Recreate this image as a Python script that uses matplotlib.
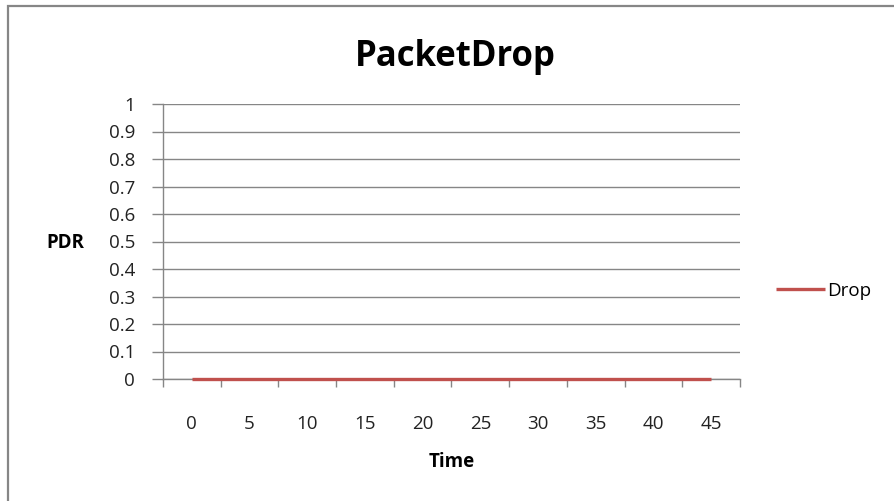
import matplotlib
matplotlib.use("Agg")
import matplotlib.pyplot as plt
from matplotlib.patches import Rectangle

# packet drop ratio sampled every 5 time units
times = [0, 5, 10, 15, 20, 25, 30, 35, 40, 45]
drop = [0, 0, 0, 0, 0, 0, 0, 0, 0, 0]
y_ticks = [0, 0.1, 0.2, 0.3, 0.4, 0.5, 0.6, 0.7, 0.8, 0.9, 1]
y_tick_labels = ["0", "0.1", "0.2", "0.3", "0.4", "0.5", "0.6", "0.7", "0.8", "0.9", "1"]

GRID = "#868686"
RED = "#C0504D"
FONT = "Open Sans"

plt.rcParams["font.family"] = [FONT, "DejaVu Sans"]

fig = plt.figure(figsize=(8.95, 5.01), dpi=100)
W, H = 895, 501

# frame around the whole chart (only left/top edges fall inside the image)
fig.patches.append(Rectangle((8 / W, -0.1), 2.0, 1.1 - 6 / H, transform=fig.transFigure,
                             fill=False, edgecolor=GRID, linewidth=1.6))

ax = fig.add_axes([163 / W, 1 - 379 / H, (740 - 163) / W, (379 - 104) / H])

pos = list(range(len(times)))
ax.plot(pos, drop, color=RED, linewidth=2.4, solid_capstyle="butt", label="Drop",
        zorder=3, clip_on=False)

ax.set_xlim(-0.5, len(times) - 0.5)
ax.set_ylim(0, 1)

# category axis: tick marks between categories, labels at the centres
ax.set_xticks([p - 0.5 for p in pos] + [len(times) - 0.5])
ax.set_xticklabels([])
ax.set_xticks(pos, minor=True)
ax.set_xticklabels([str(t) for t in times], minor=True)
ax.tick_params(axis="x", which="major", direction="out", length=6, width=1, color=GRID)
ax.tick_params(axis="x", which="minor", length=0, pad=26, labelsize=13.5, labelcolor="#222222")

ax.set_yticks(y_ticks)
ax.set_yticklabels(y_tick_labels)
ax.tick_params(axis="y", direction="out", length=8, width=1, color=GRID, pad=12,
               labelsize=13.5, labelcolor="#222222")
ax.yaxis.grid(True, color=GRID, linewidth=1)
ax.set_axisbelow(True)

for side in ["top", "right"]:
    ax.spines[side].set_visible(False)
for side in ["left", "bottom"]:
    ax.spines[side].set_color(GRID)
    ax.spines[side].set_linewidth(1)

fig.text(455 / W, 1 - 57 / H, "PacketDrop", ha="center", va="center",
         fontsize=25, fontweight="bold", color="black")
fig.text(65 / W, 1 - 243 / H, "PDR", ha="center", va="center",
         fontsize=13.5, fontweight="bold", color="black")
fig.text(452 / W, 1 - 462 / H, "Time", ha="center", va="center",
         fontsize=13.5, fontweight="bold", color="black")

fig.legend(loc="center left", bbox_to_anchor=(776 / W, 1 - 291 / H), frameon=False,
           handlelength=2.6, handletextpad=0.15, fontsize=13.5, borderaxespad=0,
           borderpad=0)

fig.savefig("out.png", dpi=100, facecolor="white")
